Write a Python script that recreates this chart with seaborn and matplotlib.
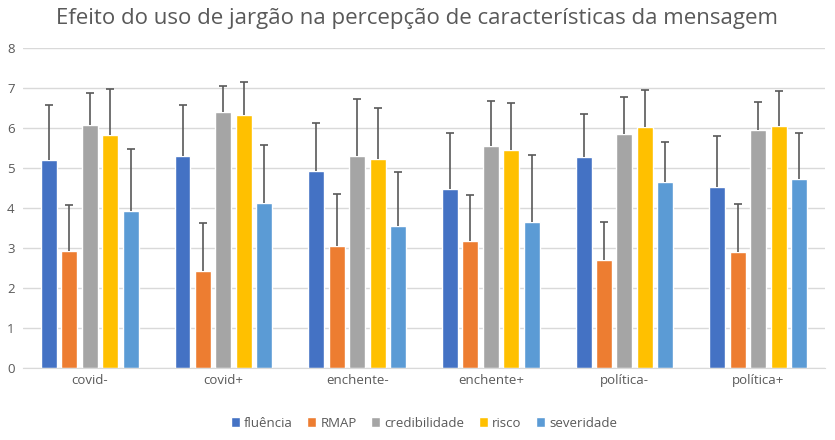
import numpy as np
import pandas as pd
import matplotlib
matplotlib.use("Agg")
import matplotlib.pyplot as plt
import seaborn as sns

# Data
grupos = ['covid-', 'covid+', 'enchente-', 'enchente+', 'política-', 'política+']
series = ['fluência', 'RMAP', 'credibilidade', 'risco', 'severidade']

fluencia = [5.21, 5.31, 4.93, 4.48, 5.28, 4.53]
rmap = [2.93, 2.43, 3.06, 3.18, 2.71, 2.91]
credibilidade = [6.08, 6.41, 5.31, 5.56, 5.86, 5.96]
risco = [5.83, 6.33, 5.23, 5.46, 6.03, 6.06]
severidade = [3.93, 4.13, 3.56, 3.66, 4.66, 4.73]

# upper error bars (standard deviation)
fluencia_dp = [1.36, 1.26, 1.19, 1.39, 1.07, 1.27]
rmap_dp = [1.14, 1.19, 1.29, 1.14, 0.94, 1.19]
credibilidade_dp = [0.79, 0.63, 1.41, 1.11, 0.91, 0.69]
risco_dp = [1.14, 0.82, 1.27, 1.16, 0.92, 0.86]
severidade_dp = [1.54, 1.44, 1.34, 1.66, 0.98, 1.14]

cores = ['#4472C4', '#ED7D31', '#A5A5A5', '#FFC000', '#5B9BD5']

medias = [fluencia, rmap, credibilidade, risco, severidade]
dps = [fluencia_dp, rmap_dp, credibilidade_dp, risco_dp, severidade_dp]

rows = []
for s, m, d in zip(series, medias, dps):
    for g, v, e in zip(grupos, m, d):
        rows.append({'grupo': g, 'serie': s, 'media': v, 'dp': e})
df = pd.DataFrame(rows)

sns.set_style('white')
plt.rcParams['font.family'] = ['Open Sans', 'DejaVu Sans']

fig = plt.figure(figsize=(8.35, 4.4), dpi=100)
ax = fig.add_axes([0.0275, 0.1636, 0.9605, 0.7274])

sns.barplot(data=df, x='grupo', y='media', hue='serie', order=grupos,
            hue_order=series, palette=cores, width=0.766, gap=0.22,
            errorbar=None, saturation=1, ax=ax, zorder=2)

# error bars (upper only), placed at the bar patches
for cont, s in zip(ax.containers, series):
    sub = df[df['serie'] == s].set_index('grupo').loc[grupos]
    xs = [p.get_x() + p.get_width() / 2 for p in cont.patches]
    ys = [p.get_height() for p in cont.patches]
    eb = ax.errorbar(xs, ys, yerr=[np.zeros(len(xs)), sub['dp'].values],
                     fmt='none', ecolor='#595959', elinewidth=1.2, capsize=3,
                     capthick=1.2, zorder=3)
    # hide the lower cap, which would sit on top of the bar
    eb[1][0].set_visible(False)

ax.set_ylim(0, 8)
ax.set_yticks(range(0, 9))
ax.set_xlim(-0.5, len(grupos) - 0.5)
ax.yaxis.grid(True, color='#D9D9D9', linewidth=1, zorder=0)
ax.set_axisbelow(True)
for sp in ['top', 'right', 'left']:
    ax.spines[sp].set_visible(False)
ax.spines['bottom'].set_color('#D9D9D9')
ax.tick_params(axis='both', length=0, colors='#595959', labelsize=9.5)
ax.tick_params(axis='y', pad=6)
ax.tick_params(axis='x', pad=4)
ax.set_xlabel('')
ax.set_ylabel('')

fig.suptitle('Efeito do uso de jargão na percepção de características da mensagem',
             x=0.5, y=0.982, fontsize=16, color='#595959')

handles, labels = ax.get_legend_handles_labels()
ax.legend(handles, labels, loc='upper center', bbox_to_anchor=(0.5, -0.115),
          ncol=5, frameon=False, fontsize=9.5, labelcolor='#595959',
          handlelength=0.7, handleheight=0.7, handletextpad=0.3,
          columnspacing=1.1)

fig.savefig('out.png', dpi=100)
